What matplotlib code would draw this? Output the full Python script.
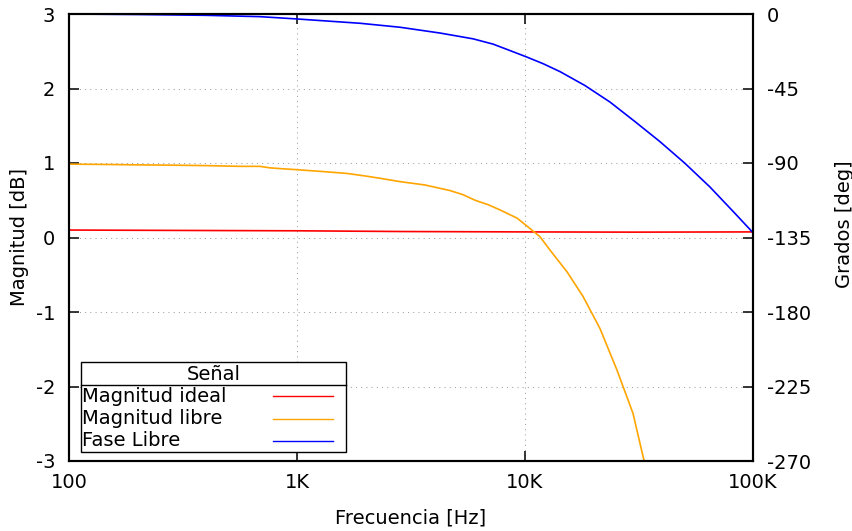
import matplotlib
matplotlib.use("Agg")
import matplotlib.pyplot as plt
from matplotlib.lines import Line2D
from matplotlib.patches import Rectangle
from matplotlib.ticker import NullLocator, FixedLocator

plt.rcParams["font.family"] = ["DejaVu Sans"]
plt.rcParams["axes.unicode_minus"] = False

# Frequency axis
freq_ticks = [100, 1000, 10000, 100000]
freq_tick_labels = ["100", "1K", "10K", "100K"]
mag_ticks = [-3, -2, -1, 0, 1, 2, 3]
phase_ticks = [0, -45, -90, -135, -180, -225, -270]

# Ideal magnitude response [dB]
ideal_freq = [100, 300, 1000, 3000, 10000, 30000, 100000]
ideal_mag = [0.10, 0.095, 0.09, 0.08, 0.075, 0.072, 0.075]

# Free-running magnitude response [dB]
libre_freq = [100, 150, 200, 300, 400, 562, 688, 760, 841, 1000, 1300, 1656,
              2000, 2312, 2830, 3640, 4690, 5346, 6040, 6900, 7770, 9230,
              10520, 11640, 12880, 15280, 17960, 21310, 25320, 29760, 32950,
              34000]
libre_mag = [0.985, 0.98, 0.975, 0.97, 0.965, 0.955, 0.955, 0.935, 0.925, 0.91,
             0.885, 0.86, 0.825, 0.795, 0.75, 0.705, 0.63, 0.575, 0.50, 0.44,
             0.37, 0.26, 0.12, 0.01, -0.17, -0.46, -0.79, -1.22, -1.78, -2.36,
             -2.94, -3.1]

# Free-running phase response [deg]
fase_freq = [100, 200, 400, 688, 1000, 1890, 2830, 4240, 5920, 7245, 8340,
             10100, 12000, 14240, 18320, 23600, 30370, 39080, 50300, 64750,
             83300, 100000]
fase_deg = [0, -0.3, -0.8, -1.6, -3.0, -5.6, -8.0, -11.5, -15.0, -18.2, -21.4,
            -25.8, -30.0, -34.8, -43.2, -53.2, -65.0, -77.1, -90.2, -104.5,
            -120.4, -132.1]

series_labels = ["Magnitud ideal", "Magnitud libre", "Fase Libre"]
series_colors = ["#ff0000", "#ffa500", "#0000ff"]

W, H = 853, 531
fig = plt.figure(figsize=(W / 100, H / 100), dpi=100)
ax = fig.add_axes([69 / W, 1 - 461 / H, 684 / W, 447 / H])
ax2 = ax.twinx()

FS = 14
grid_style = dict(color="#a0a0a0", linestyle=(0, (1, 4)), linewidth=0.75)

ax.set_xscale("log")
ax.set_xlim(100, 100000)
ax.set_ylim(-3, 3)
ax2.set_ylim(-270, 0)

ax.xaxis.set_major_locator(FixedLocator(freq_ticks))
ax.xaxis.set_minor_locator(NullLocator())
ax.set_xticklabels(freq_tick_labels)
ax.set_yticks(mag_ticks)
ax.set_yticklabels([str(v) for v in mag_ticks])
ax2.set_yticks(phase_ticks)
ax2.set_yticklabels([str(v) for v in phase_ticks])

ax.grid(True, which="major", **grid_style)

ax.tick_params(axis="x", which="both", direction="in", top=True, bottom=True,
               length=7, width=1.1, labelsize=FS, pad=9)
ax.tick_params(axis="y", direction="in", left=True, right=False,
               length=7, width=1.1, labelsize=FS, pad=10)
ax2.tick_params(axis="y", direction="in", left=False, right=True,
                length=7, width=1.1, labelsize=FS, pad=10)

for a in (ax, ax2):
    for s in a.spines.values():
        s.set_linewidth(1.5)

l1, = ax.plot(ideal_freq, ideal_mag, color=series_colors[0], lw=1.2)
l2, = ax.plot(libre_freq, libre_mag, color=series_colors[1], lw=1.2)
l3, = ax2.plot(fase_freq, fase_deg, color=series_colors[2], lw=1.2)

ax.set_xlabel("Frecuencia [Hz]", fontsize=FS)
ax.xaxis.set_label_coords(0.5, -(518 - 461) / 447)
ax.xaxis.label.set_va("center")
ax.set_ylabel("Magnitud [dB]", fontsize=FS)
ax.yaxis.set_label_coords(-(69 - 20) / 684, 0.5)
ax.yaxis.label.set_va("center")
ax2.set_ylabel("Grados [deg]", fontsize=FS, rotation=90)
ax2.yaxis.set_label_coords((845 - 69) / 684, 1 - (224 - 14) / 447)
ax2.yaxis.label.set_va("center")


def px(x, y):
    """Pixel position (from top-left) to figure fraction."""
    return x / W, 1 - y / H


def draw_key(lines, labels, title):
    # gnuplot-style boxed key with a title row
    left, right, top, sep, bottom = 81, 346, 362, 384.5, 452
    x0, y0 = px(left, bottom)
    x1, y1 = px(right, top)
    fig.add_artist(Rectangle((x0, y0), x1 - x0, y1 - y0, transform=fig.transFigure,
                             facecolor="white", edgecolor="black", lw=1.0, zorder=5))
    sx0, sy = px(left, sep)
    sx1, _ = px(right, sep)
    fig.add_artist(Line2D([sx0, sx1], [sy, sy], transform=fig.transFigure,
                          color="black", lw=1.0, zorder=6))
    tx, ty = px((left + right) / 2, 374)
    fig.text(tx, ty, title, ha="center", va="center", fontsize=FS, zorder=7)
    rows = [396.5, 419, 441]
    for line, lab, ry in zip(lines, labels, rows):
        lx, ly = px(82, ry)
        fig.text(lx, ly, lab, ha="left", va="center", fontsize=FS, zorder=7)
        hx0, hy = px(273, ry - 0.5)
        hx1, _ = px(333, ry - 0.5)
        fig.add_artist(Line2D([hx0, hx1], [hy, hy], transform=fig.transFigure,
                              color=line.get_color(), lw=1.0, zorder=7))


draw_key([l1, l2, l3], series_labels, "Señal")

fig.savefig("out.png", dpi=100)
